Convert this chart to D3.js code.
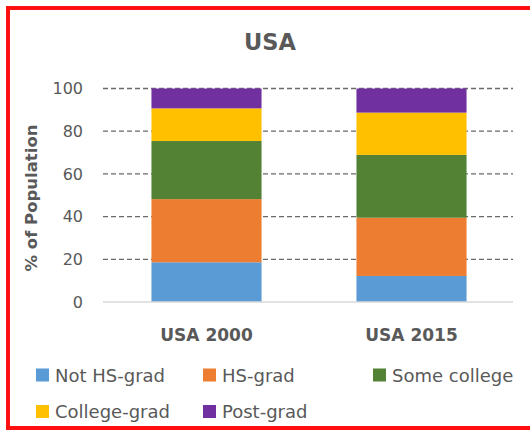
<!DOCTYPE html>
<html>
<head>
<meta charset="UTF-8">
<title>USA</title>
<script src="https://d3js.org/d3.v7.min.js"></script>
<style>
  body { margin: 0; background: #fff; }
  text { font-family: "DejaVu Sans", sans-serif; fill: #595959; }
</style>
</head>
<body>
<script>
var categories = ["USA 2000", "USA 2015"];
var levels = ["Not HS-grad", "HS-grad", "Some college", "College-grad", "Post-grad"];
var notHsGrad   = [18.6, 12.2];
var hsGrad      = [29.6, 27.3];
var someCollege = [27.2, 29.4];
var collegeGrad = [15.3, 19.8];
var postGrad    = [9.3, 11.3];
var yTicks = [0, 20, 40, 60, 80, 100];
var colors = ["#5B9BD5", "#ED7D31", "#548235", "#FFC000", "#7030A0"];

var series = [notHsGrad, hsGrad, someCollege, collegeGrad, postGrad];
var rows = categories.map(function(c, i) {
    var r = {cat: c};
    levels.forEach(function(l, j) { r[l] = series[j][i]; });
    return r;
});

var svg = d3.select("body").append("svg")
    .attr("width", 530)
    .attr("height", 431);

// red frame
svg.append("rect")
    .attr("x", 8).attr("y", 8)
    .attr("width", 540).attr("height", 420)
    .attr("fill", "none")
    .attr("stroke", "#ff1010")
    .attr("stroke-width", 4);

var x = d3.scaleBand().domain(categories).range([104, 514])
    .paddingInner(0.463).paddingOuter(0.2315);
var y = d3.scaleLinear().domain([0, 100]).range([302, 88.5]);

// gridlines
svg.append("g").selectAll("line")
    .data(yTicks.filter(function(d) { return d > 0; }))
    .enter().append("line")
    .attr("x1", 103).attr("x2", 513)
    .attr("y1", function(d) { return y(d); })
    .attr("y2", function(d) { return y(d); })
    .attr("stroke", "#6a6a6a")
    .attr("stroke-width", 1.3)
    .attr("stroke-dasharray", "5,3");

// stacked bars
var stack = d3.stack().keys(levels)(rows);
svg.append("g").selectAll("g")
    .data(stack)
    .enter().append("g")
    .attr("fill", function(d, i) { return colors[i]; })
    .selectAll("rect")
    .data(function(d) { return d; })
    .enter().append("rect")
    .attr("x", function(d) { return x(d.data.cat); })
    .attr("width", x.bandwidth())
    .attr("y", function(d) { return y(d[1]); })
    .attr("height", function(d) { return y(d[0]) - y(d[1]); });

// baseline
svg.append("line")
    .attr("x1", 103).attr("x2", 513)
    .attr("y1", y(0)).attr("y2", y(0))
    .attr("stroke", "#d9d9d9")
    .attr("stroke-width", 1.5);

// y axis labels
var yAxis = svg.append("g")
    .attr("transform", "translate(91,0)")
    .call(d3.axisLeft(y).tickValues(yTicks).tickSize(0).tickPadding(8));
yAxis.select(".domain").remove();
yAxis.selectAll("text")
    .style("font-family", "DejaVu Sans")
    .style("font-size", "16px")
    .attr("fill", "#595959");

// x axis labels
var xAxis = svg.append("g")
    .attr("transform", "translate(0," + y(0) + ")")
    .call(d3.axisBottom(x).tickSize(0).tickPadding(27));
xAxis.select(".domain").remove();
xAxis.selectAll("text")
    .style("font-family", "DejaVu Sans")
    .style("font-size", "17px")
    .style("font-weight", "bold")
    .attr("fill", "#595959");

// title
svg.append("text")
    .attr("x", 270).attr("y", 50)
    .attr("text-anchor", "middle")
    .style("font-size", "22.5px")
    .style("font-weight", "bold")
    .text("USA");

// y title
svg.append("text")
    .attr("transform", "translate(36.5,198) rotate(-90)")
    .attr("text-anchor", "middle")
    .style("font-size", "16.5px")
    .style("font-weight", "bold")
    .text("% of Population");

// legend
var legPos = [[36, 375], [203, 375], [373, 375], [36, 411.5], [203, 411.5]];
var leg = svg.append("g").selectAll("g")
    .data(levels)
    .enter().append("g")
    .attr("transform", function(d, i) { return "translate(" + legPos[i][0] + "," + legPos[i][1] + ")"; });
leg.append("rect")
    .attr("x", 0).attr("y", -6.5)
    .attr("width", 13).attr("height", 13)
    .attr("fill", function(d, i) { return colors[i]; });
leg.append("text")
    .attr("x", 19).attr("y", 6.5)
    .style("font-size", "18px")
    .text(function(d) { return d; });
</script>
</body>
</html>
